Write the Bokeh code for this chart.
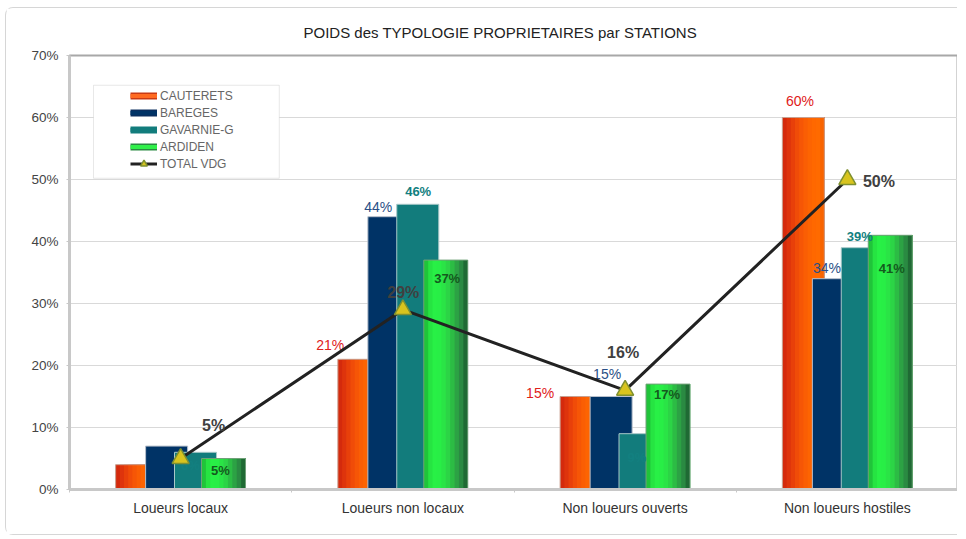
import numpy as np
from bokeh.plotting import figure
from bokeh.models import (ColumnDataSource, FixedTicker, Legend, LegendItem,
                          BoxAnnotation, Range1d, Title)
from bokeh.core.properties import value
from bokeh.embed import file_html
from bokeh.resources import INLINE

# ---------------- data ----------------
categories = ["Loueurs locaux", "Loueurs non locaux", "Non loueurs ouverts", "Non loueurs hostiles"]
series_names = ["CAUTERETS", "BAREGES", "GAVARNIE-G", "ARDIDEN"]
cauterets = [4, 21, 15, 60]
bareges = [7, 44, 15, 34]
gavarnie = [6, 46, 9, 39]
ardiden = [5, 37, 17, 41]
total_vdg = [5, 29, 16, 50]
total_name = "TOTAL VDG"
y_ticks = [0, 10, 20, 30, 40, 50, 60, 70]
y_tick_labels = ["0%", "10%", "20%", "30%", "40%", "50%", "60%", "70%"]
title_text = "POIDS des TYPOLOGIE PROPRIETAIRES par STATIONS"

# ---------------- styles ----------------
FONT = "Liberation Sans"
series_values = [cauterets, bareges, gavarnie, ardiden]
bar_offsets = [-0.198, -0.063, 0.067, 0.193]
bar_widths = [0.189, 0.189, 0.189, 0.198]
gradients = [
    ["#d42a0c", "#de340c", "#e8400a", "#f04c08", "#f65606", "#fa5e04", "#fd6402", "#ff6800", "#ff6a00", "#f86400"],
    ["#003366"],
    ["#127c7c"],
    ["#20c43a", "#26e442", "#28f046", "#28ee46", "#2ae446", "#2cd446", "#2cbc44", "#2ca244", "#2a8a42", "#1f6a34"],
]
outline_colors = ["#c8a090", "#b8c0cc", "#a8c8c8", "#70a078"]
label_colors = ["#e0201a", "#2a4f86", "#128080", "#145a1e"]
label_bold = [False, False, True, True]
label_shown = [
    [False, True, True, True],
    [False, True, True, True],
    [True, True, True, True],
    [True, True, True, True],
]
label_dx = [
    [0, -28.6, -41, -3.4],
    [0, -10.6, -4, -6.4],
    [-5, 0.4, -3, -2.4],
    [-3, 1.4, -1, 1.6],
]
label_dy = [
    [0, -14.6, -3.7, -16.3],
    [0, -9.3, -22.7, -11.2],
    [13.6, -13, 24, -11.2],
    [12.4, 18.4, 10.7, 33],
]
total_dx = [33, 0.4, -2, 31.6]
total_dy = [-32.6, -17, -37.5, 1.8]

cat_x = np.arange(len(categories)) + 0.5

p = figure(width=952, height=528, output_backend="svg", toolbar_location=None,
           x_range=Range1d(0, len(categories)), y_range=Range1d(0, 70),
           min_border_left=63, min_border_right=0, min_border_top=47, min_border_bottom=47)
p.styles = {"margin-left": "5px", "margin-top": "7px",
            "border-left": "1px solid #d6d6d6", "border-top": "1px solid #d6d6d6",
            "border-bottom": "1px solid #d6d6d6",
            "border-top-left-radius": "8px", "border-bottom-left-radius": "8px"}
p.background_fill_color = "white"
p.border_fill_color = "white"
p.outline_line_color = "#a8a8a8"
p.outline_line_width = 2

p.title = Title(text=title_text, align="left", vertical_align="top", standoff=26,
                text_font=FONT, text_font_size="15px", text_font_style="normal",
                text_color="#222222", offset=234)

# grid
p.xgrid.grid_line_color = None
p.ygrid.ticker = FixedTicker(ticks=y_ticks)
p.ygrid.grid_line_color = "#d9d9d9"
p.ygrid.grid_line_width = 1

# y axis
p.yaxis.ticker = FixedTicker(ticks=y_ticks)
p.yaxis.major_label_overrides = {t: l for t, l in zip(y_ticks, y_tick_labels)}
p.yaxis.axis_line_color = "#c8c8c8"
p.yaxis.axis_line_width = 3
p.yaxis.major_tick_line_color = "#c8c8c8"
p.yaxis.major_tick_in = 0
p.yaxis.major_tick_out = 3
p.yaxis.minor_tick_line_color = None
p.yaxis.major_label_standoff = 8
p.yaxis.major_label_text_font = FONT
p.yaxis.major_label_text_font_size = "13.5px"
p.yaxis.major_label_text_color = "#444444"

# x axis
p.xaxis.ticker = FixedTicker(ticks=list(cat_x), minor_ticks=list(range(len(categories) + 1)))
p.xaxis.major_label_overrides = {float(x): c for x, c in zip(cat_x, categories)}
p.xaxis.axis_line_color = "#c8c8c8"
p.xaxis.axis_line_width = 3
p.xaxis.major_tick_line_color = None
p.xaxis.minor_tick_line_color = "#c8c8c8"
p.xaxis.minor_tick_in = 0
p.xaxis.minor_tick_out = 3
p.xaxis.major_label_standoff = 4
p.xaxis.major_label_text_font = FONT
p.xaxis.major_label_text_font_size = "14px"
p.xaxis.major_label_text_color = "#333333"

# bars: horizontal gradient built from stacked quads (each covers the rest of the bar)
for vals, off, w, grad, oc in zip(series_values, bar_offsets, bar_widths, gradients, outline_colors):
    n = len(grad)
    left_edge = cat_x + off - w / 2
    for j, col in enumerate(grad):
        p.quad(left=left_edge + j * w / n, right=left_edge + w, top=vals, bottom=0,
               fill_color=col, line_color=None)
    p.vbar(x=cat_x + off, top=vals, bottom=0, width=w, fill_alpha=0, line_color=oc, line_width=1)

# bar labels
for i, (vals, off) in enumerate(zip(series_values, bar_offsets)):
    idx = [k for k in range(len(vals)) if label_shown[i][k]]
    src = ColumnDataSource(dict(
        x=[cat_x[k] + off for k in idx],
        y=[vals[k] for k in idx],
        t=[f"{vals[k]}%" for k in idx],
        dx=[label_dx[i][k] for k in idx],
        dy=[label_dy[i][k] for k in idx],
    ))
    p.text(x="x", y="y", text="t", x_offset="dx", y_offset="dy", source=src,
           text_align="center", text_baseline="middle", text_color=label_colors[i],
           text_font=value(FONT), text_font_size="13px" if label_bold[i] else "14px",
           text_font_style="bold" if label_bold[i] else "normal")

# total line
p.line(x=cat_x, y=total_vdg, line_color="#222222", line_width=3)
p.scatter(x=cat_x, y=total_vdg, marker="triangle", size=17, fill_color="#d8c41e",
          line_color="#7f9030", line_width=1.5)
tsrc = ColumnDataSource(dict(x=cat_x, y=total_vdg, t=[f"{v}%" for v in total_vdg],
                             dx=total_dx, dy=total_dy))
p.text(x="x", y="y", text="t", x_offset="dx", y_offset="dy", source=tsrc,
       text_align="center", text_baseline="middle", text_color="#404040",
       text_font=value(FONT), text_font_size="16px", text_font_style="bold")

# legend box
box = BoxAnnotation(left=0.108, right=0.944, top=65.2, bottom=50.2,
                    fill_color="white", fill_alpha=1, line_color="#b4b4b4", line_width=1)
p.add_layout(box)

nan = [np.nan]
leg_items = []
sw_outer = ["#c83a14", "#0a2e5e", "#127c7c", "#2a8a42"]
sw_inner = ["#ff6a20", "#003366", "#127c7c", "#30f04a"]
for name, so, si in zip(series_names, sw_outer, sw_inner):
    r1 = p.line(x=nan, y=nan, line_color=so, line_width=7)
    r2 = p.line(x=nan, y=nan, line_color=si, line_width=4)
    leg_items.append(LegendItem(label=name, renderers=[r1, r2]))
rt1 = p.line(x=nan, y=nan, line_color="#222222", line_width=3)
rt2 = p.scatter(x=nan, y=nan, marker="triangle", size=15, fill_color="#d8c41e",
                line_color="#7f9030", line_width=1.5)
leg_items.append(LegendItem(label=total_name, renderers=[rt1, rt2]))

legend = Legend(items=leg_items, location=(61, 317), padding=0, spacing=0, margin=0,
                glyph_width=27, glyph_height=17, label_height=17, label_standoff=3,
                label_text_font=FONT, label_text_font_size="12px", label_text_color="#666666",
                border_line_color=None, background_fill_alpha=0)
p.add_layout(legend)

open("out.html", "w").write(file_html(p, INLINE))
